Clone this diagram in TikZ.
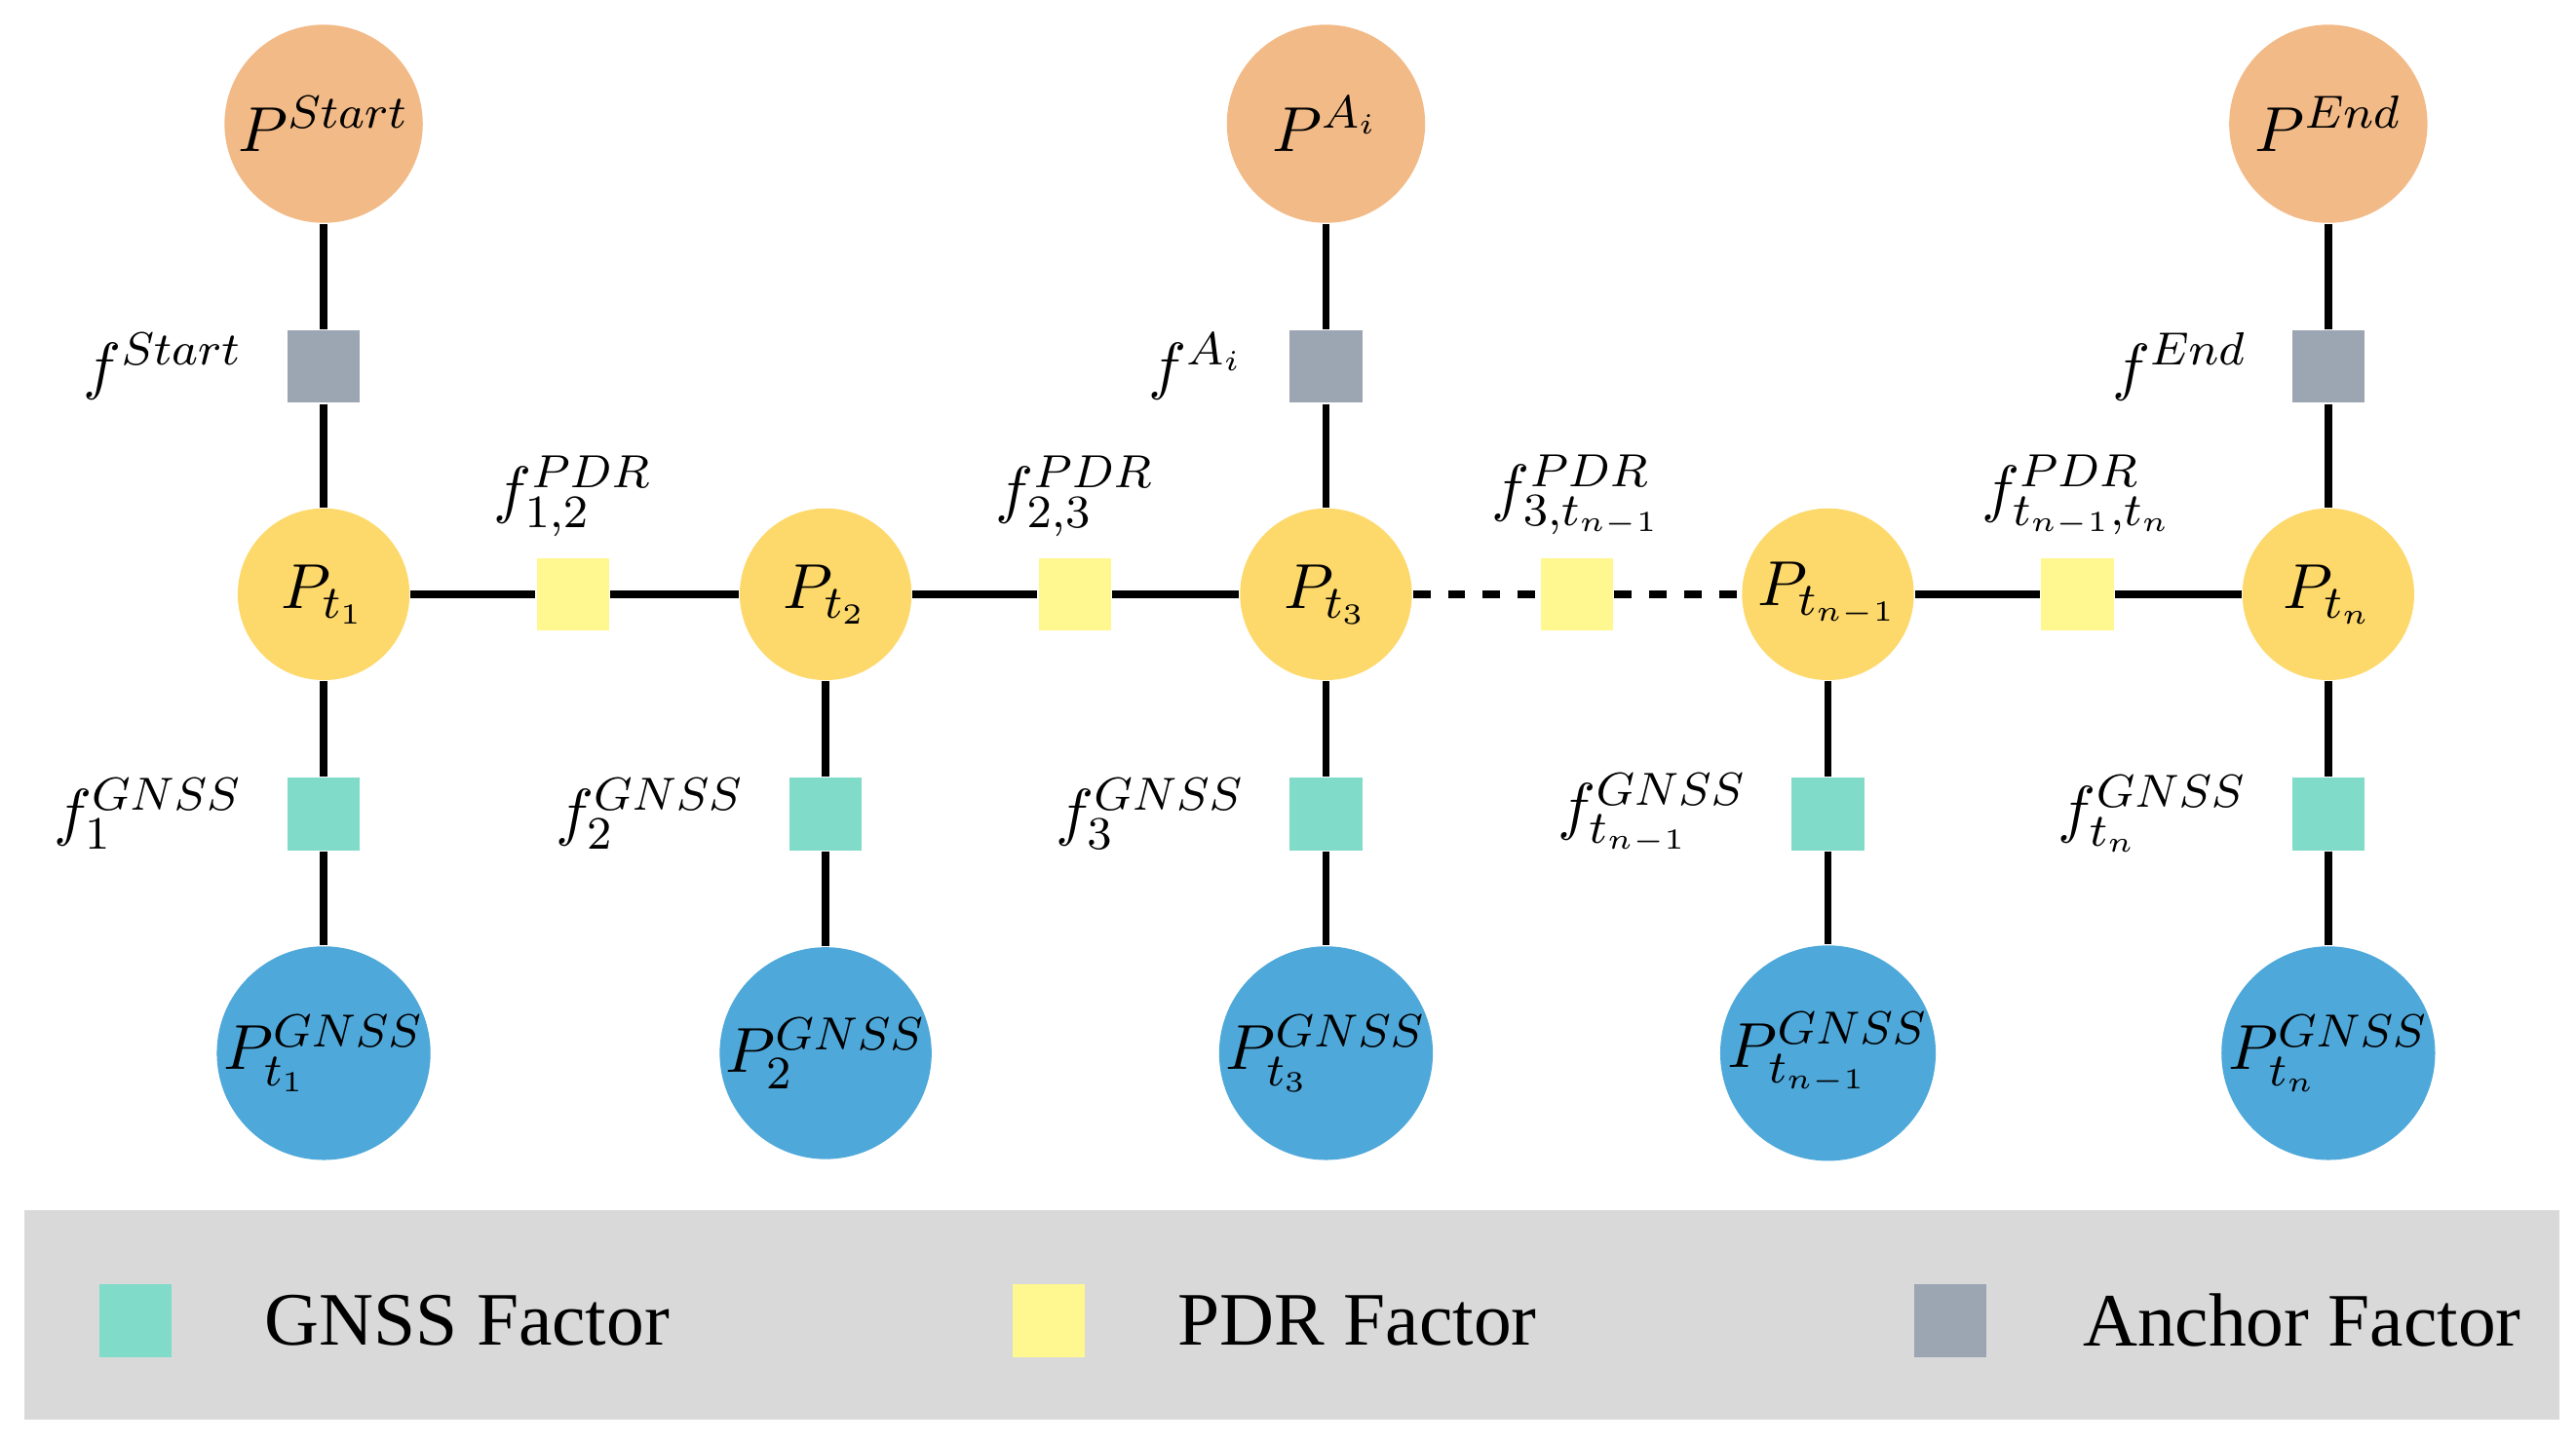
\documentclass[tikz,border=0pt]{standalone}
\usepackage{fontspec}
\setmainfont{Liberation Serif}
\usetikzlibrary{positioning}
\definecolor{orangeP}{HTML}{F2BA87}
\definecolor{yellowP}{HTML}{FDD86A}
\definecolor{blueP}{HTML}{4EA8DA}
\definecolor{gnssF}{HTML}{80DBC8}
\definecolor{pdrF}{HTML}{FFF78F}
\definecolor{anchF}{HTML}{9BA6B2}
\definecolor{legbg}{HTML}{D9D9D9}
\tikzset{
  big/.style={circle,minimum size=1.2cm,inner sep=0pt,font=\fontsize{11}{13}\selectfont},
  pose/.style={circle,fill=yellowP,minimum size=1.04cm,inner sep=0pt,font=\fontsize{11}{13}\selectfont},
  fac/.style={rectangle,minimum size=0.44cm,inner sep=0pt},
  flab/.style={font=\fontsize{11}{13}\selectfont},
  legtext/.style={font=\fontsize{13}{16}\selectfont,anchor=west},
  edge/.style={line width=1.3pt}
}
\begin{document}
\begin{tikzpicture}[x=0.01cm,y=-0.01cm]
  \useasboundingbox (0,0) rectangle (1560,874);
  \fill[legbg] (15,733) rectangle (1550,860);
  % poses
  \foreach \x/\n/\l in {196/1/{P_{t_1}},500/2/{P_{t_2}},803/3/{P_{t_3}},1107/4/{P_{t_{n-1}}},1410/5/{P_{t_n}}}
    \node[pose] (P\n) at (\x,360) {$\l$};
  \foreach \x/\n/\l in {196/1/{P^{GNSS}_{t_1}},500/2/{P^{GNSS}_{2}},803/3/{P^{GNSS}_{t_3}},1107/4/{P^{GNSS}_{t_{n-1}}},1410/5/{P^{GNSS}_{t_n}}}
    \node[big,fill=blueP] (G\n) at (\x,638) {$\l$};
  \foreach \x/\n/\l in {196/1/{f^{GNSS}_{1}},500/2/{f^{GNSS}_{2}},803/3/{f^{GNSS}_{3}},1107/4/{f^{GNSS}_{t_{n-1}}},1410/5/{f^{GNSS}_{t_n}}}
    \node[fac,fill=gnssF,label={[flab,xshift=-4pt]left:$\l$}] (g\n) at (\x,493) {};
  % anchors
  \node[big,fill=orangeP] (S) at (196,75) {$P^{Start}$};
  \node[big,fill=orangeP] (A) at (803,75) {$P^{A_i}$};
  \node[big,fill=orangeP] (E) at (1410,75) {$P^{End}$};
  \node[fac,fill=anchF,label={[flab,xshift=-4pt]left:$f^{Start}$}] (fs) at (196,222) {};
  \node[fac,fill=anchF,label={[flab,xshift=-4pt]left:$f^{A_i}$}] (fa) at (803,222) {};
  \node[fac,fill=anchF,label={[flab,xshift=-4pt]left:$f^{End}$}] (fe) at (1410,222) {};
  % pdr factors
  \node[fac,fill=pdrF,label={[flab]above:$f^{PDR}_{1,2}$}] (d1) at (347,360) {};
  \node[fac,fill=pdrF,label={[flab]above:$f^{PDR}_{2,3}$}] (d2) at (651,360) {};
  \node[fac,fill=pdrF,label={[flab]above:$f^{PDR}_{3,t_{n-1}}$}] (d3) at (955,360) {};
  \node[fac,fill=pdrF,label={[flab]above:$f^{PDR}_{t_{n-1},t_n}$}] (d4) at (1258,360) {};
  % edges
  \foreach \n in {1,...,5} {
    \draw[edge] (P\n) -- (g\n);
    \draw[edge] (g\n) -- (G\n);
  }
  \draw[edge] (S) -- (fs) -- (P1);
  \draw[edge] (A) -- (fa) -- (P3);
  \draw[edge] (E) -- (fe) -- (P5);
  \draw[edge] (P1) -- (d1) -- (P2);
  \draw[edge] (P2) -- (d2) -- (P3);
  \draw[edge,dashed] (P3) -- (d3) -- (P4);
  \draw[edge] (P4) -- (d4) -- (P5);
  % legend
  \node[fac,fill=gnssF] (lg) at (82,800) {};
  \node[legtext] (lgt) at (148,800) {GNSS Factor};
  \node[fac,fill=pdrF] (lp) at (635,800) {};
  \node[legtext] (lpt) at (701,800) {PDR Factor};
  \node[fac,fill=anchF] (la) at (1181,800) {};
  \node[legtext] (lat) at (1249,800) {Anchor Factor};
\end{tikzpicture}
\end{document}
